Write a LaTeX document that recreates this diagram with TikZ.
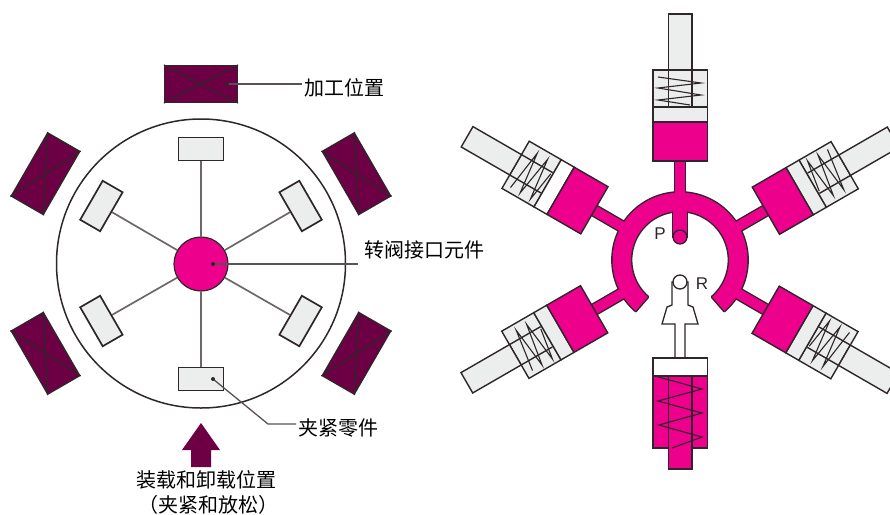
\documentclass[tikz,border=0pt]{standalone}
\usepackage{fontspec}
\newfontfamily\cjk{Noto Sans CJK SC}
\newfontfamily\latn{Liberation Sans}
\definecolor{mag}{HTML}{EC008C}
\definecolor{plum}{HTML}{6D0045}
\definecolor{ink}{HTML}{2E262A}
\definecolor{pale}{HTML}{ECEEEE}
\tikzset{
  lab/.style={font=\cjk\fontsize{20}{22}\selectfont,inner sep=0pt,text=black},
  ltr/.style={font=\latn\fontsize{17}{19}\selectfont,inner sep=0pt,text=ink},
  station/.style={draw=ink,line width=1.3pt,fill=plum,minimum width=73pt,minimum height=37pt,inner sep=0pt},
  clampbox/.style={draw=ink,line width=1.7pt,fill=pale,minimum width=45pt,minimum height=23pt,inner sep=0pt},
  hubnode/.style={circle,draw=ink,line width=1.2pt,fill=mag,minimum size=54pt,inner sep=0pt},
  spoke/.style={draw=ink!70,line width=1.7pt},
  leader/.style={draw=ink!80,line width=1.3pt},
  xline/.style={draw=ink,line width=1.2pt},
  outl/.style={draw=ink,line width=1.4pt,line join=miter},
  coil/.style={draw=ink,line width=1.1pt}
}
\newcommand{\cylunit}[2]{%
  \begin{scope}[rotate around={#1:(680,260)}]
    \filldraw[outl,fill=pale] (653,70) rectangle (707.5,107);
    \filldraw[outl,fill=#2] (653,107) rectangle (707.5,122);
    \filldraw[outl,fill=mag] (653,122) rectangle (707.5,161);
    \filldraw[outl,fill=pale] (668.5,14) rectangle (692,70);
    \draw[outl] (668.5,70) -- (668.5,106) (692,70) -- (692,106);
    \draw[coil] (658,77) -- (701,83) -- (658,88) -- (701,95) -- (658,100) -- (690,105);
  \end{scope}}
\newcommand{\stemshape}[1]{%
  \begin{scope}[rotate around={#1:(680,260)}]
    \path[draw=ink,line width=2.8pt] (675,160) rectangle (685,200);
  \end{scope}}
\newcommand{\stemfill}[1]{%
  \begin{scope}[rotate around={#1:(680,260)}]
    \fill[mag] (675,160) rectangle (685,205);
  \end{scope}}
\begin{document}
\begin{tikzpicture}[x=1pt,y=-1pt]
\useasboundingbox (0,0) rectangle (890,514);
% left: index table
\draw[draw=ink,line width=1.5pt] (201,263.5) circle (144.5);
\node[hubnode] (hub) at (201,264) {};
\node[clampbox] (c1) at (201,149) {};
\node[clampbox,rotate=60] (c2) at (101.4,206) {};
\node[clampbox,rotate=-60] (c3) at (300.6,206) {};
\node[clampbox,rotate=120] (c4) at (101.4,321) {};
\node[clampbox,rotate=-120] (c5) at (300.6,321) {};
\node[clampbox] (c6) at (201,379) {};
\foreach \n in {1,...,6} \draw[spoke] (hub) -- (c\n);
\node[station] (d1) at (201,84) {};
\node[station,rotate=60] (d2) at (45.5,173.7) {};
\node[station,rotate=-60] (d3) at (356.5,173.7) {};
\node[station,rotate=120] (d4) at (45.5,353.3) {};
\node[station,rotate=-120] (d5) at (356.5,353.3) {};
\foreach \n in {1,...,5} {
  \draw[xline] (d\n.north west) -- (d\n.south east);
  \draw[xline] (d\n.north east) -- (d\n.south west);
}
% load arrow
\fill[plum] (201,423) -- (220,450) -- (211,450) -- (211,467) -- (191,467) -- (191,450) -- (182,450) -- cycle;
% labels
\node[lab,anchor=west] (t1) at (304,88) {加工位置};
\node[lab,anchor=west] (t2) at (364,250) {转阀接口元件};
\node[lab,anchor=west] (t3) at (298,428) {夹紧零件};
\node[lab] (t4) at (206,480) {装载和卸载位置};
\node[lab] (t5) at (208,505) {（夹紧和放松）};
\coordinate (l1) at (227,84);
\coordinate (l2) at (213,264);
\coordinate (l2e) at (358,264);
\coordinate (l3) at (213,379);
\coordinate (l3b) at (268,424);
\coordinate (l3e) at (296,424);
\coordinate (l1e) at (302,84);
\draw[leader] (l1) -- (l1e);
\draw[leader] (l2) -- (l2e);
\draw[leader] (l3) -- (l3b) -- (l3e);
\foreach \p in {l1,l2,l3} \fill[ink] (\p) circle (2);
% right: rotary valve
\foreach \a in {0,60,-60,120,-120} \stemshape{\a};
\path[draw=ink,line width=2.8pt,line join=round]
  plot[domain=-49:229,samples=70] ({680+67.5*cos(\x)},{260-67.5*sin(\x)}) --
  plot[domain=229:-49,samples=70] ({680+49*cos(\x)},{260-49*sin(\x)}) -- cycle;
\path[draw=ink,line width=2.8pt] (673,205) rectangle (687,237);
\fill[mag]
  plot[domain=-49:229,samples=70] ({680+67.5*cos(\x)},{260-67.5*sin(\x)}) --
  plot[domain=229:-49,samples=70] ({680+49*cos(\x)},{260-49*sin(\x)}) -- cycle;
\foreach \a in {0,60,-60,120,-120} \stemfill{\a};
\fill[mag] (673,205) rectangle (687,237);
\filldraw[draw=ink,line width=1.3pt,fill=mag] (680,237) circle (7);
\cylunit{0}{pale}
\cylunit{60}{white}
\cylunit{-60}{pale}
\cylunit{120}{pale}
\cylunit{-120}{pale}
\node[ltr] (p) at (660,234) {P};
\node[ltr] (r) at (702,284) {R};
% exhaust cylinder and poppet
\filldraw[draw=ink,line width=1.3pt,fill=white]
  (675,358) -- (675,324) -- (662,324) -- (667,307) -- (672,305) -- (672,282)
  -- (688,282) -- (688,305) -- (693,307) -- (698,324) -- (685,324) -- (685,358) -- cycle;
\filldraw[draw=ink,line width=1.3pt,fill=white] (680,282) circle (7);
\filldraw[outl,fill=mag] (653,376) rectangle (707.5,448);
\filldraw[outl,fill=white] (653,358) rectangle (707.5,376);
\draw[draw=ink,line width=2pt] (653,358) -- (707.5,358);
\filldraw[outl,fill=mag] (668.5,448) rectangle (692,469);
\fill[mag] (669.2,446) rectangle (691.3,450);
\draw[outl] (668.5,376) -- (668.5,469) (692,376) -- (692,469);
\draw[coil] (655,376) -- (702,389) -- (658,401) -- (702,413) -- (659,425) -- (702,437) -- (672,448);
\end{tikzpicture}
\end{document}
